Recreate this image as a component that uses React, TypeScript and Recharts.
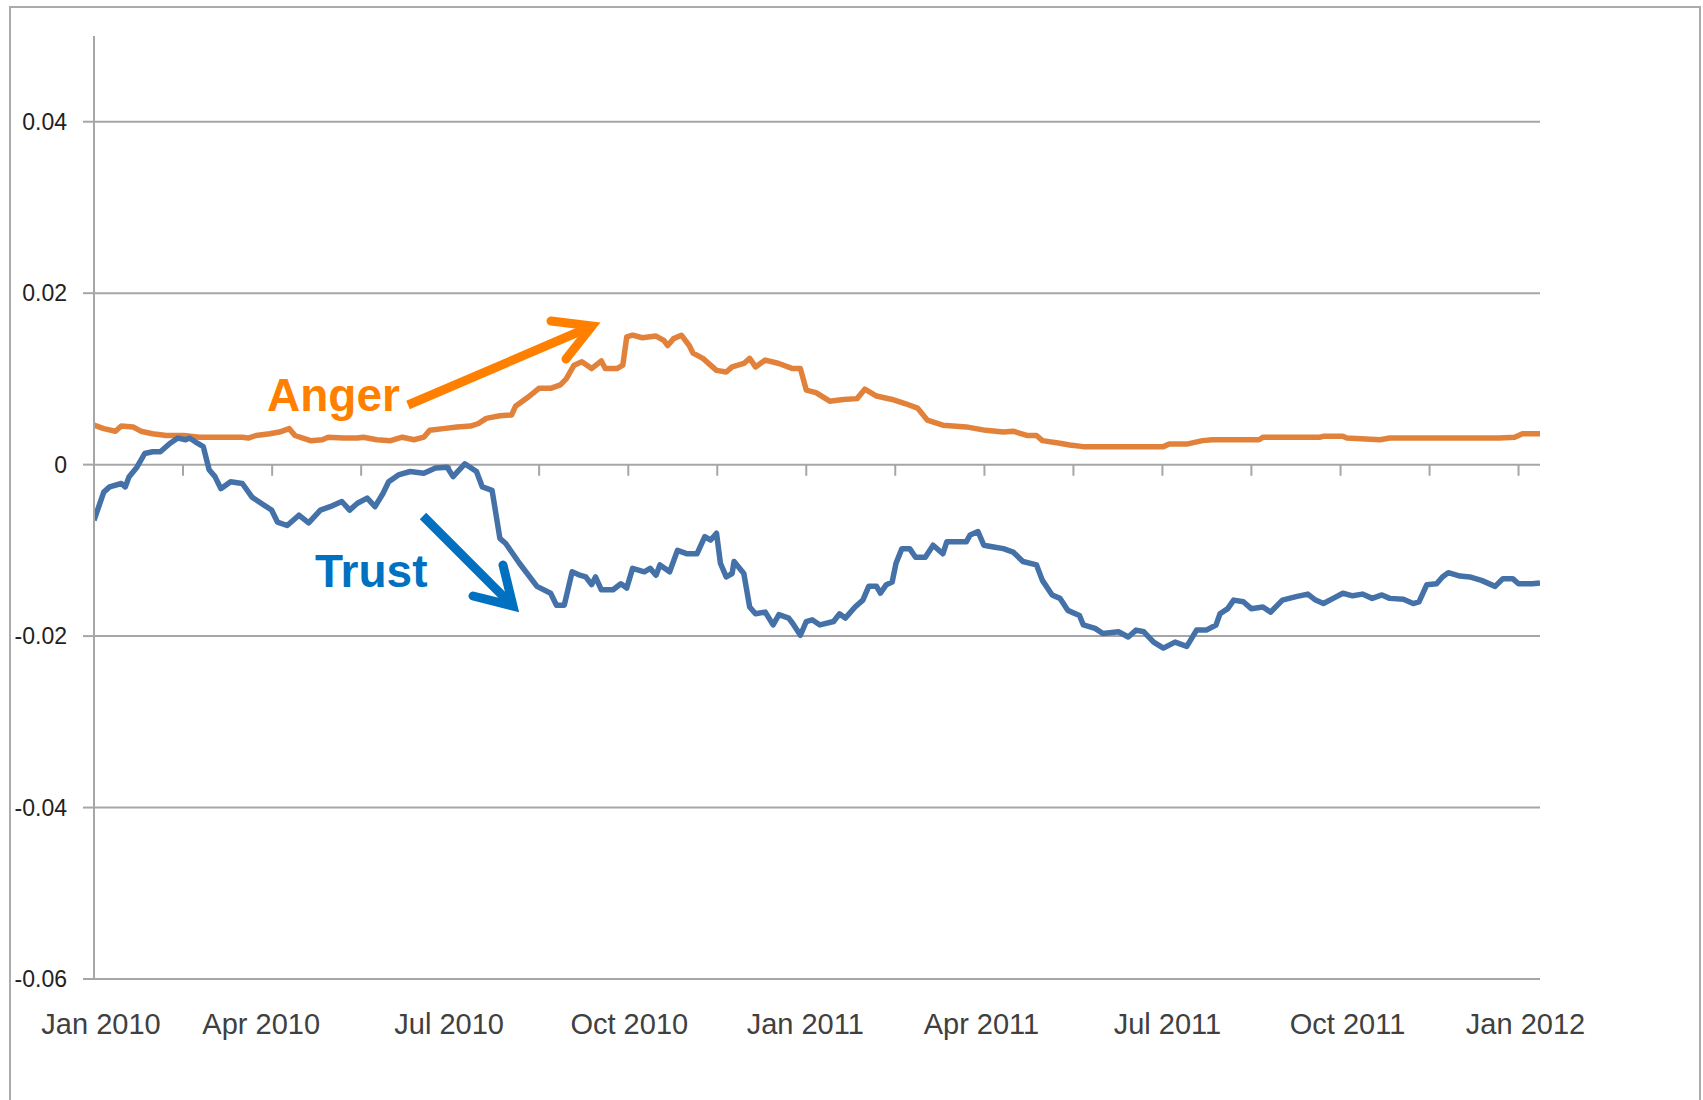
import React from "react"
import {
  LineChart,
  Line,
  XAxis,
  YAxis,
  CartesianGrid,
  ReferenceLine,
} from "recharts"

// x is days since 1 Jan 2010
const tickDays = [0, 45.6, 91.3, 136.9, 182.5, 228.1, 273.8, 319.4, 365, 410.6, 456.3, 501.9, 547.5, 593.1, 638.8, 684.4, 730]
const tickLabels = ["Jan 2010", "", "Apr 2010", "", "Jul 2010", "", "Oct 2010", "", "Jan 2011", "", "Apr 2011", "", "Jul 2011", "", "Oct 2011", "", "Jan 2012"]
const yTicks = [-0.06, -0.04, -0.02, 0, 0.02, 0.04]

const trustDays = [
  0, 5, 8, 14, 16, 18, 22, 26, 30, 34, 39, 43, 47, 49, 53, 56, 59, 62, 65, 70,
  76, 81, 87, 91, 94, 99, 105, 110, 116, 121, 127, 131, 135, 140, 144, 148, 151, 156, 162, 169,
  175, 181, 184, 190, 196, 199, 204, 208, 211, 218, 227, 234, 237, 241, 245, 249, 252, 255, 257, 260,
  266, 270, 273, 276, 282, 285, 288, 290, 295, 299, 304, 309, 313, 316, 319, 321, 324, 327, 328, 333,
  336, 339, 344, 348, 351, 356, 358, 362, 365, 368, 372, 379, 382, 385, 390, 394, 397, 401, 403, 406,
  409, 411, 414, 418, 421, 426, 430, 435, 437, 447, 449, 453, 456, 461, 466, 471, 476, 483, 486, 491,
  495, 499, 505, 507, 513, 517, 525, 530, 534, 538, 543, 548, 554, 560, 565, 570, 575, 577, 581, 584,
  589, 593, 599, 603, 609, 616, 622, 626, 630, 635, 640, 645, 650, 655, 660, 664, 671, 676, 679, 683,
  688, 691, 694, 700, 705, 711, 718, 722, 727, 730, 737, 741,
]
const trustValues = [
  -0.0065, -0.0032, -0.0026, -0.0022, -0.0026, -0.0014, -0.0003, 0.0013, 0.0015, 0.0015,
  0.0025, 0.0031, 0.0029, 0.0031, 0.0025, 0.0021, -0.0006, -0.0014, -0.0028, -0.002,
  -0.0022, -0.0038, -0.0047, -0.0053, -0.0067, -0.0071, -0.0059, -0.0068, -0.0053, -0.0049,
  -0.0043, -0.0053, -0.0045, -0.0039, -0.0049, -0.0034, -0.002, -0.0012, -0.0008, -0.001,
  -0.0004, -0.0003, -0.0014, 0.0001, -0.0008, -0.0026, -0.003, -0.0086, -0.0092, -0.0115,
  -0.0142, -0.015, -0.0164, -0.0164, -0.0125, -0.0129, -0.0131, -0.014, -0.0131, -0.0146,
  -0.0146, -0.0139, -0.0144, -0.0121, -0.0125, -0.0121, -0.0129, -0.0117, -0.0125, -0.01,
  -0.0104, -0.0104, -0.0084, -0.0088, -0.008, -0.0115, -0.0131, -0.0127, -0.0113, -0.0127,
  -0.0166, -0.0174, -0.0172, -0.0187, -0.0175, -0.0179, -0.0185, -0.0199, -0.0183, -0.0181,
  -0.0187, -0.0183, -0.0174, -0.0179, -0.0166, -0.0158, -0.0142, -0.0142, -0.015, -0.014,
  -0.0137, -0.0115, -0.0098, -0.0098, -0.0108, -0.0108, -0.0094, -0.0104, -0.009, -0.009,
  -0.0082, -0.0078, -0.0094, -0.0096, -0.0098, -0.0102, -0.0113, -0.0117, -0.0135, -0.0152,
  -0.0156, -0.017, -0.0176, -0.0187, -0.0191, -0.0197, -0.0195, -0.0201, -0.0193, -0.0195,
  -0.0207, -0.0214, -0.0207, -0.0212, -0.0193, -0.0193, -0.0187, -0.0174, -0.0168, -0.0158,
  -0.016, -0.0168, -0.0166, -0.0172, -0.0158, -0.0154, -0.0151, -0.0158, -0.0162, -0.0156,
  -0.015, -0.0153, -0.0151, -0.0156, -0.0152, -0.0156, -0.0157, -0.0162, -0.016, -0.014,
  -0.0139, -0.0131, -0.0126, -0.013, -0.0131, -0.0135, -0.0142, -0.0133, -0.0133, -0.0139,
  -0.0139, -0.0138,
]

const angerDays = [
  0, 5, 11, 14, 20, 24, 30, 37, 46, 54, 66, 76, 79, 83, 90, 95, 100, 103, 107, 111,
  117, 120, 128, 135, 138, 145, 152, 158, 164, 169, 172, 179, 186, 193, 197, 201, 208, 214, 216, 222,
  228, 234, 239, 242, 246, 250, 255, 260, 262, 268, 271, 273, 276, 281, 288, 292, 294, 297, 301, 305,
  307, 312, 319, 324, 327, 333, 336, 339, 344, 351, 358, 362, 365, 370, 377, 384, 391, 395, 401, 409,
  416, 422, 427, 435, 447, 457, 466, 471, 478, 483, 486, 495, 500, 507, 529, 548, 551, 560, 568, 573,
  597, 599, 628, 630, 640, 642, 659, 664, 698, 720, 728, 732, 741,
]
const angerValues = [
  0.0046, 0.0042, 0.0039, 0.0045, 0.0044, 0.0039, 0.0036, 0.0034, 0.0034, 0.0032,
  0.0032, 0.0032, 0.0031, 0.0034, 0.0036, 0.0038, 0.0042, 0.0034, 0.0031, 0.0028,
  0.0029, 0.0032, 0.0031, 0.0031, 0.0032, 0.0029, 0.0028, 0.0032, 0.0029, 0.0032,
  0.004, 0.0042, 0.0044, 0.0045, 0.0048, 0.0054, 0.0057, 0.0058, 0.0068, 0.0078,
  0.0089, 0.0089, 0.0093, 0.01, 0.0116, 0.012, 0.0112, 0.0121, 0.0112, 0.0112,
  0.0116, 0.0149, 0.0151, 0.0148, 0.015, 0.0145, 0.0139, 0.0147, 0.0151, 0.0139,
  0.013, 0.0124, 0.011, 0.0108, 0.0114, 0.0118, 0.0124, 0.0114, 0.0122, 0.0118,
  0.0112, 0.0112, 0.0087, 0.0084, 0.0074, 0.0076, 0.0077, 0.0088, 0.008, 0.0076,
  0.0071, 0.0066, 0.0052, 0.0046, 0.0044, 0.004, 0.0038, 0.0039, 0.0034, 0.0034,
  0.0028, 0.0025, 0.0023, 0.0021, 0.0021, 0.0021, 0.0024, 0.0024, 0.0028, 0.0029,
  0.0029, 0.0032, 0.0032, 0.0033, 0.0033, 0.0031, 0.0029, 0.0031, 0.0031, 0.0031,
  0.0032, 0.0036, 0.0036,
]

const trustData = trustDays.map((day, i) => ({ day, v: trustValues[i] }))
const angerData = angerDays.map((day, i) => ({ day, v: angerValues[i] }))

const FONT = "'Liberation Sans', Arial, sans-serif"
const GRID = "#a6a6a6"
// small horizontal nudges of the month labels, in px (Excel does not centre them exactly)
const labelNudge = [7, 0, -11, 0, -1, 0, 1, 0, -1, 0, -3, 0, 5, 0, 7, 0, 7]

function MonthTick(props: any) {
  const { x, y, payload } = props
  const idx = tickDays.indexOf(payload.value)
  const label = idx >= 0 ? tickLabels[idx] : ""
  if (!label) return null
  return (
    <text
      x={x + labelNudge[idx]}
      y={y}
      dy="0.71em"
      textAnchor="middle"
      fontSize={29}
      fontFamily={FONT}
      fill="#404040"
    >
      {label}
    </text>
  )
}

export default function App() {
  return (
    <div
      style={{
        position: "absolute",
        left: 0,
        top: 0,
        width: 1703,
        height: 1100,
        overflow: "hidden",
        background: "#fff",
      }}
    >
      <div
        style={{
          position: "absolute",
          left: 9,
          top: 6,
          width: 1688,
          height: 1200,
          border: "2px solid #ababab",
        }}
      />
      <LineChart
        width={1703}
        height={1100}
        margin={{ top: 36, right: 163, bottom: 0, left: 0 }}
        style={{ position: "absolute", left: 0, top: 0 }}
      >
        <CartesianGrid
          vertical={false}
          syncWithTicks
          stroke={GRID}
          strokeWidth={2}
        />
        <XAxis
          type="number"
          dataKey="day"
          domain={[0, 741]}
          ticks={tickDays}
          interval={0}
          allowDataOverflow
          axisLine={false}
          tickLine={false}
          tickSize={6}
          tickMargin={28}
          height={121}
          tick={<MonthTick />}
        />
        <YAxis
          type="number"
          domain={[-0.06, 0.05]}
          ticks={yTicks}
          interval={0}
          allowDataOverflow
          width={94}
          tickSize={11}
          tickMargin={16}
          axisLine={{ stroke: GRID, strokeWidth: 2 }}
          tickLine={{ stroke: GRID, strokeWidth: 2 }}
          tick={{ fill: "#222", fontSize: 23, fontFamily: FONT }}
          tickFormatter={(v: number) => String(v)}
        />
        {tickDays.map((d) => (
          <ReferenceLine
            key={d}
            segment={[
              { x: d, y: 0 },
              { x: d, y: -0.0013 },
            ]}
            stroke={GRID}
            strokeWidth={2}
          />
        ))}
        <Line
          data={angerData}
          dataKey="v"
          type="linear"
          stroke="#e2823a"
          strokeWidth={5.5}
          strokeLinejoin="round"
          dot={false}
          activeDot={false}
          isAnimationActive={false}
        />
        <Line
          data={trustData}
          dataKey="v"
          type="linear"
          stroke="#4471a8"
          strokeWidth={5.5}
          strokeLinejoin="round"
          dot={false}
          activeDot={false}
          isAnimationActive={false}
        />
      </LineChart>
      <svg
        width={1703}
        height={1100}
        style={{ position: "absolute", left: 0, top: 0, pointerEvents: "none" }}
      >
        <text x={267} y={411} fontSize={46} fontWeight="bold" fontFamily={FONT} fill="#ff8000">
          Anger
        </text>
        <line x1={408} y1={405} x2={590} y2={327} stroke="#ff8000" strokeWidth={9} />
        <polyline
          points="551,321 592,326 566,359"
          fill="none"
          stroke="#ff8000"
          strokeWidth={9}
          strokeLinecap="round"
          strokeLinejoin="miter"
        />
        <text x={315} y={587} fontSize={46} fontWeight="bold" fontFamily={FONT} fill="#0070c0">
          Trust
        </text>
        <line x1={423} y1={516} x2={510} y2={603} stroke="#0070c0" strokeWidth={9} />
        <polyline
          points="503,565 513,606 473,596"
          fill="none"
          stroke="#0070c0"
          strokeWidth={9}
          strokeLinecap="round"
          strokeLinejoin="miter"
        />
      </svg>
    </div>
  )
}
